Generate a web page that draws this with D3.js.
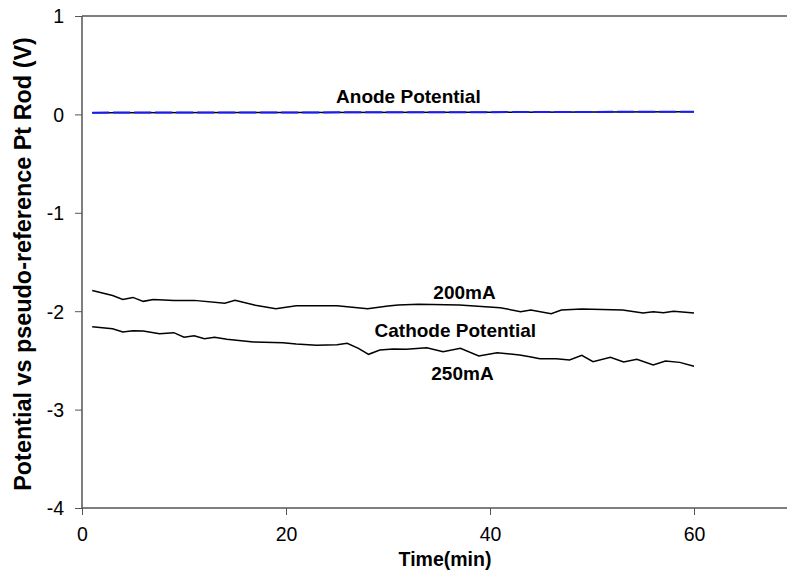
<!DOCTYPE html>
<html><head><meta charset="utf-8">
<script src="https://cdn.jsdelivr.net/npm/d3@7"></script>
<style>body{margin:0;background:#fff}svg{display:block}text{font-family:"Liberation Sans",Arial,sans-serif}</style>
</head><body><svg id="c" width="787" height="583"></svg>
<script>
const xTicks = [0, 20, 40, 60];
const yTicks = [1, 0, -1, -2, -3, -4];

const t200 = [1, 3, 4, 5, 6, 7, 9, 11, 14, 15, 17, 19, 21, 25, 28, 30, 31, 33, 37, 41, 43, 44, 46, 47, 49, 53, 55, 56, 57, 58, 60];
const v200 = [-1.79, -1.84, -1.88, -1.86, -1.90, -1.88, -1.89, -1.89, -1.92, -1.89, -1.94, -1.975, -1.945, -1.945, -1.975, -1.947, -1.937, -1.93, -1.937, -1.964, -2.005, -1.988, -2.025, -1.988, -1.978, -1.988, -2.018, -2.005, -2.015, -2.001, -2.018];

const t250 = [1, 3, 4, 5, 6, 7.6, 9, 10, 11, 12, 13, 14.2, 16.8, 19.7, 21, 23, 25, 26, 27.1, 28.1, 29.2, 30.5, 31.8, 33.8, 35.4, 37.1, 38.9, 40.7, 42.9, 43.9, 44.9, 46.5, 47.8, 49, 50.1, 51.8, 53.1, 54.4, 56, 57.2, 58.6, 60];
const v250 = [-2.157, -2.178, -2.211, -2.198, -2.201, -2.229, -2.218, -2.265, -2.249, -2.279, -2.265, -2.286, -2.313, -2.320, -2.333, -2.347, -2.340, -2.326, -2.377, -2.438, -2.394, -2.385, -2.387, -2.371, -2.412, -2.377, -2.455, -2.422, -2.445, -2.462, -2.483, -2.483, -2.496, -2.448, -2.513, -2.469, -2.516, -2.489, -2.547, -2.506, -2.520, -2.560];

const tAnode = [1, 20, 40, 60];
const vAnode200 = [0.018, 0.020, 0.022, 0.027];
const vAnode250 = [0.018, 0.020, 0.023, 0.028];

const labels = [
  {text: "Anode Potential", t: 32.0, v: 0.12},
  {text: "200mA", t: 37.5, v: -1.88},
  {text: "Cathode Potential", t: 36.6, v: -2.26},
  {text: "250mA", t: 37.3, v: -2.7}
];

const svg = d3.select("#c");
const x = d3.scaleLinear().domain([0, 70]).range([82, 796]);
const y = d3.scaleLinear().domain([-4, 1]).range([508, 16]);
const W = 787;
const axisColor = "#555";
const fmt = d => String(d);

svg.append("line").attr("x1", x(0)).attr("x2", W).attr("y1", y(1)).attr("y2", y(1)).attr("stroke", axisColor).attr("stroke-width", 1.5);
svg.append("line").attr("x1", x(0)).attr("x2", W).attr("y1", y(-4)).attr("y2", y(-4)).attr("stroke", axisColor).attr("stroke-width", 1.5);
svg.append("line").attr("x1", x(0)).attr("x2", x(0)).attr("y1", y(1)).attr("y2", y(-4)).attr("stroke", axisColor).attr("stroke-width", 1.5);

const xa = svg.append("g").attr("transform", `translate(0,${y(-4)})`)
  .call(d3.axisBottom(x).tickValues(xTicks).tickSize(7).tickPadding(12).tickFormat(fmt));
xa.select(".domain").remove();
xa.selectAll("line").attr("stroke", axisColor);
xa.selectAll("text").attr("font-size", 19.5).attr("fill", "#000");

const ya = svg.append("g").attr("transform", `translate(${x(0)},0)`)
  .call(d3.axisLeft(y).tickValues(yTicks).tickSize(7).tickPadding(11).tickFormat(fmt));
ya.select(".domain").remove();
ya.selectAll("line").attr("stroke", axisColor);
ya.selectAll("text").attr("font-size", 19.5).attr("fill", "#000").attr("dy", "0.35em");

const line = d3.line().x(d => x(d[0])).y(d => y(d[1]));
const pts = (ts, vs) => ts.map((t, i) => [t, vs[i]]);

svg.append("path").attr("d", line(pts(t200, v200))).attr("fill", "none").attr("stroke", "#000").attr("stroke-width", 1.5);
svg.append("path").attr("d", line(pts(t250, v250))).attr("fill", "none").attr("stroke", "#000").attr("stroke-width", 1.5);
svg.append("path").attr("d", line(pts(tAnode, vAnode200))).attr("fill", "none").attr("stroke", "#000").attr("stroke-width", 1.5);
svg.append("path").attr("d", line(pts(tAnode, vAnode250))).attr("fill", "none").attr("stroke", "#1a1aff").attr("stroke-width", 2).attr("stroke-dasharray", "17,4");

svg.selectAll("text.lbl").data(labels).enter().append("text").attr("class", "lbl")
  .attr("x", d => x(d.t)).attr("y", d => y(d.v))
  .attr("text-anchor", "middle").attr("font-size", 19).attr("font-weight", "bold").text(d => d.text);

svg.append("text").attr("x", 445).attr("y", 566).attr("text-anchor", "middle")
  .attr("font-size", 19.5).attr("font-weight", "bold").text("Time(min)");
svg.append("text").attr("transform", "translate(31,264) rotate(-90)").attr("text-anchor", "middle")
  .attr("font-size", 23.4).attr("font-weight", "bold").text("Potential vs pseudo-reference Pt Rod (V)");
</script></body></html>
